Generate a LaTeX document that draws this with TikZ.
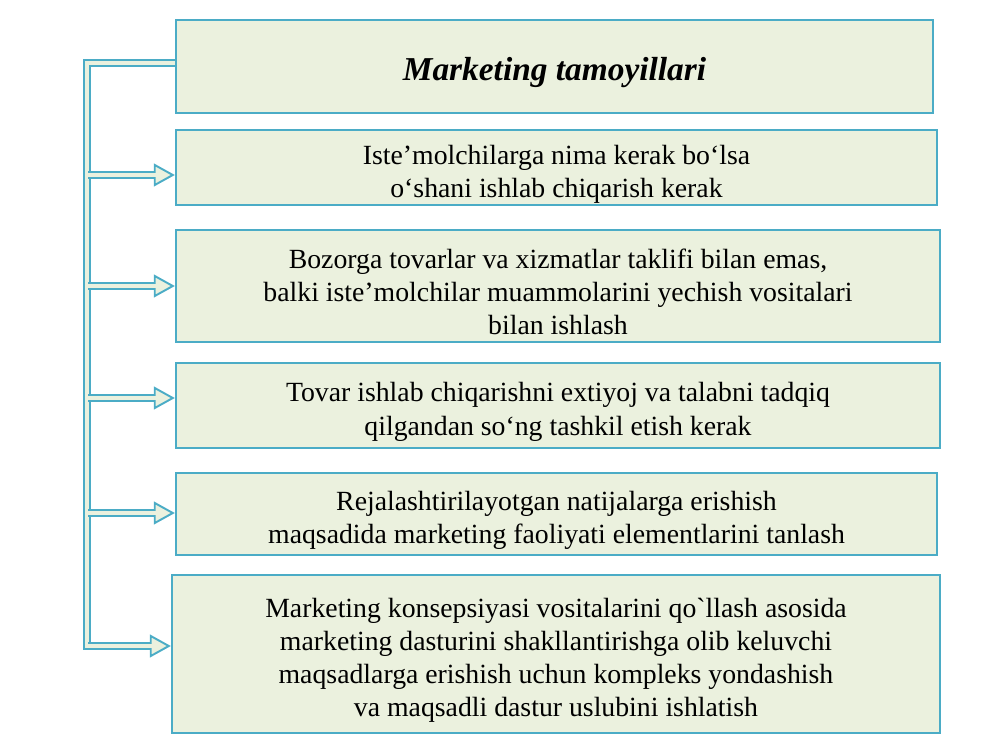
\documentclass[tikz,border=0pt]{standalone}
\usepackage{fontspec}
\setmainfont{Liberation Serif}
\usetikzlibrary{arrows.meta,calc}
\definecolor{edgeblue}{HTML}{4BACC6}
\definecolor{boxfill}{HTML}{EBF1DE}
\newcommand\topstrut{\rule{0pt}{0.64cm}}
\tikzset{
	box/.style 2 args={draw=edgeblue,fill=boxfill,line width=1.3pt,minimum width=#1,minimum height=#2,align=center,inner sep=0pt,font=\fontsize{15.8}{18.8}\selectfont},
	tube/.style={draw=edgeblue,line width=4.6pt,postaction={draw=boxfill,line width=2.4pt,shorten >=1.1pt}},
	conn/.style={draw=edgeblue,line width=4.6pt,-{Triangle[length=12pt,width=13pt,fill=boxfill,line width=1.1pt]},postaction={draw=boxfill,line width=2.4pt,arrows=-,shorten >=10pt}}
}

\begin{document}
\begin{tikzpicture}[x=0.2mm,y=-0.2mm]
	\useasboundingbox (0,0) rectangle (1000,750);
	\node [box={15.14cm}{1.86cm},font=\fontsize{19}{22}\selectfont\bfseries\itshape] (title) at (554.5,66.5) {\rule{0pt}{0.7cm}Marketing tamoyillari};
	\node [box={15.22cm}{1.5cm}] (b1) at (556.5,167.5) {\topstrut Iste’molchilarga nima kerak bo‘lsa\\o‘shani ishlab chiqarish kerak};
	\node [box={15.28cm}{2.24cm}] (b2) at (558,286) {\topstrut Bozorga tovarlar va xizmatlar taklifi bilan emas,\\balki iste’molchilar muammolarini yechish vositalari\\bilan ishlash};
	\node [box={15.28cm}{1.7cm}] (b3) at (558,405.5) {\topstrut Tovar ishlab chiqarishni extiyoj va talabni tadqiq\\qilgandan so‘ng tashkil etish kerak};
	\node [box={15.22cm}{1.64cm}] (b4) at (556.5,514) {\topstrut Rejalashtirilayotgan natijalarga erishish\\maqsadida marketing faoliyati elementlarini tanlash};
	\node [box={15.36cm}{3.16cm}] (b5) at (556,654) {\topstrut Marketing konsepsiyasi vositalarini qo\textasciigrave llash asosida\\marketing dasturini shakllantirishga olib keluvchi\\maqsadlarga erishish uchun kompleks yondashish\\va maqsadli dastur uslubini ishlatish};

	% spine from the title down the left side
	\coordinate (spinebot) at (87,650);
	\draw [tube] ($(title.west)+(0,-3.5)$) -| (spinebot);

	% arrows into each principle
	\foreach \b/\s in {b1/7.5, b2/0, b3/-7.5, b4/-1, b5/-8}
		\draw [conn] ($(spinebot |- \b.west)+(1,\s)$) -- ($(\b.west)+(0,\s)$);
\end{tikzpicture}
\end{document}
